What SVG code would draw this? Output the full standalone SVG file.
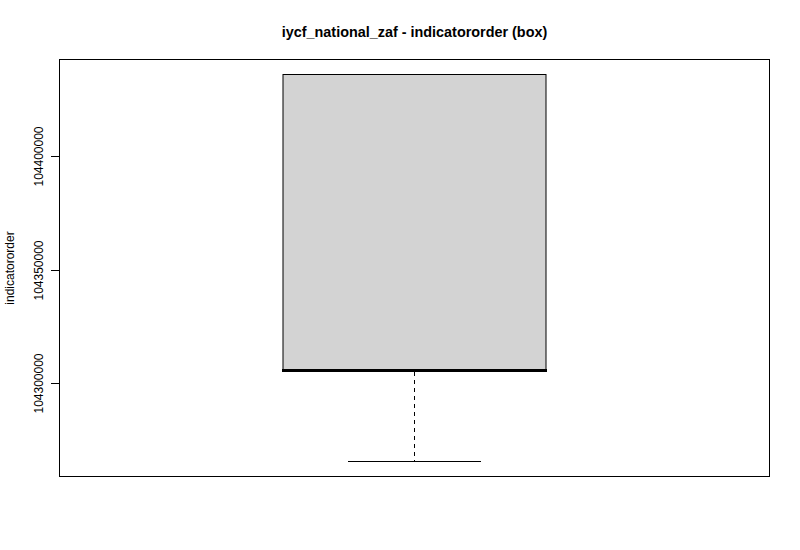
<svg xmlns="http://www.w3.org/2000/svg" width="800" height="550" viewBox="0 0 800 550">
<style>
.t{font-family:"Liberation Sans",Arial,sans-serif;font-size:12px;fill:#000}
.ln{stroke:#000;stroke-width:1;fill:none}
</style>
<rect width="800" height="550" fill="#fff"/>
<text class="t" x="414.5" y="37" text-anchor="middle" style="font-weight:bold;font-size:14.4px">iycf_national_zaf - indicatororder (box)</text>
<g id="frame"><rect class="ln" x="59.5" y="59.5" width="710" height="417"/></g>
<g id="yaxis">
<line class="ln" x1="51" y1="156.5" x2="59.5" y2="156.5"/>
<line class="ln" x1="51" y1="270.5" x2="59.5" y2="270.5"/>
<line class="ln" x1="51" y1="383.5" x2="59.5" y2="383.5"/>
<text class="t" transform="translate(43,156.5) rotate(-90)" text-anchor="middle">104400000</text>
<text class="t" transform="translate(43,270.5) rotate(-90)" text-anchor="middle">104350000</text>
<text class="t" transform="translate(43,383.5) rotate(-90)" text-anchor="middle">104300000</text>
<text class="t" transform="translate(14,268) rotate(-90)" text-anchor="middle">indicatororder</text>
</g>
<g id="box">
<rect x="283" y="74.5" width="263" height="296" fill="#d3d3d3" stroke="#000" stroke-width="1"/>
<line x1="282" y1="370.5" x2="547" y2="370.5" stroke="#000" stroke-width="3"/>
</g>
<g id="connectors">
<line class="ln" x1="414.5" y1="372" x2="414.5" y2="461" stroke-dasharray="4,4"/>
<line class="ln" x1="348" y1="461.5" x2="481" y2="461.5"/>
</g>
</svg>
